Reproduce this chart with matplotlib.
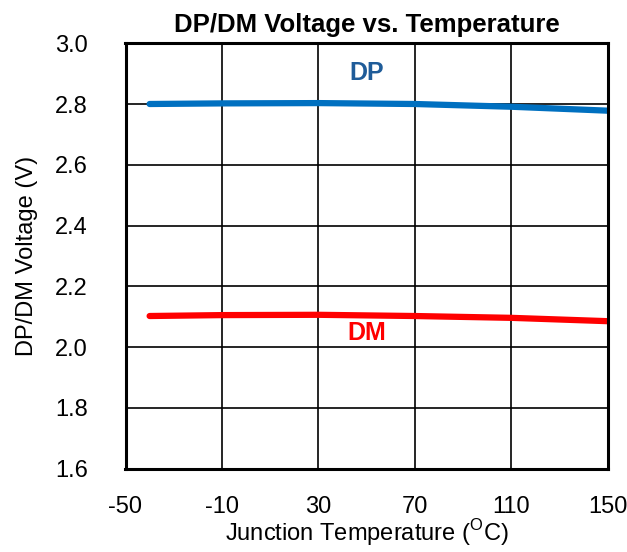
import matplotlib
matplotlib.use("Agg")
import matplotlib.pyplot as plt

temps = [-40, -10, 30, 70, 110, 150]
dp = [2.800, 2.802, 2.803, 2.800, 2.791, 2.778]
dm = [2.102, 2.105, 2.106, 2.102, 2.096, 2.085]
xticks = [-50, -10, 30, 70, 110, 150]
yticks = [1.6, 1.8, 2.0, 2.2, 2.4, 2.6, 2.8, 3.0]

plt.rcParams['font.family'] = ['Liberation Sans', 'DejaVu Sans']

fig = plt.figure(figsize=(6.27, 5.52), dpi=100)
ax = fig.add_axes([125.5/627, 1-468.5/552, (607.7-125.5)/627, (468.5-43.25)/552])

ax.plot(temps, dp, color='#0070C0', lw=4.5, solid_capstyle='round')
ax.plot(temps, dm, color='#FF0000', lw=4.5, solid_capstyle='round')

ax.text(50, 2.902, 'DP', color='#1F5C99', fontsize=18, fontweight='bold', ha='center', va='center')
ax.text(50, 2.046, 'DM', color='#FF0000', fontsize=18, fontweight='bold', ha='center', va='center')

ax.set_xlim(-50, 150)
ax.set_ylim(1.6, 3.0)
ax.set_xticks(xticks)
ax.set_yticks(yticks)
ax.set_xticklabels([str(t) for t in xticks])
ax.set_yticklabels([f"{v:.1f}" for v in yticks])
ax.tick_params(length=0, labelsize=17)
ax.tick_params(axis='x', pad=20)
ax.tick_params(axis='y', pad=27)
ax.grid(True, color='black', lw=1.2)
ax.set_axisbelow(True)
for s in ax.spines.values():
    s.set_linewidth(2.2)
    s.set_color('black')

ax.set_xlabel('Junction Temperature ($^\\mathregular{O}$C)', fontsize=17, labelpad=-1)
ax.set_ylabel('DP/DM Voltage (V)', fontsize=17, labelpad=12)
ax.set_title('DP/DM Voltage vs. Temperature', fontsize=18.5, fontweight='bold', pad=8)

fig.savefig('out.png', dpi=100)
